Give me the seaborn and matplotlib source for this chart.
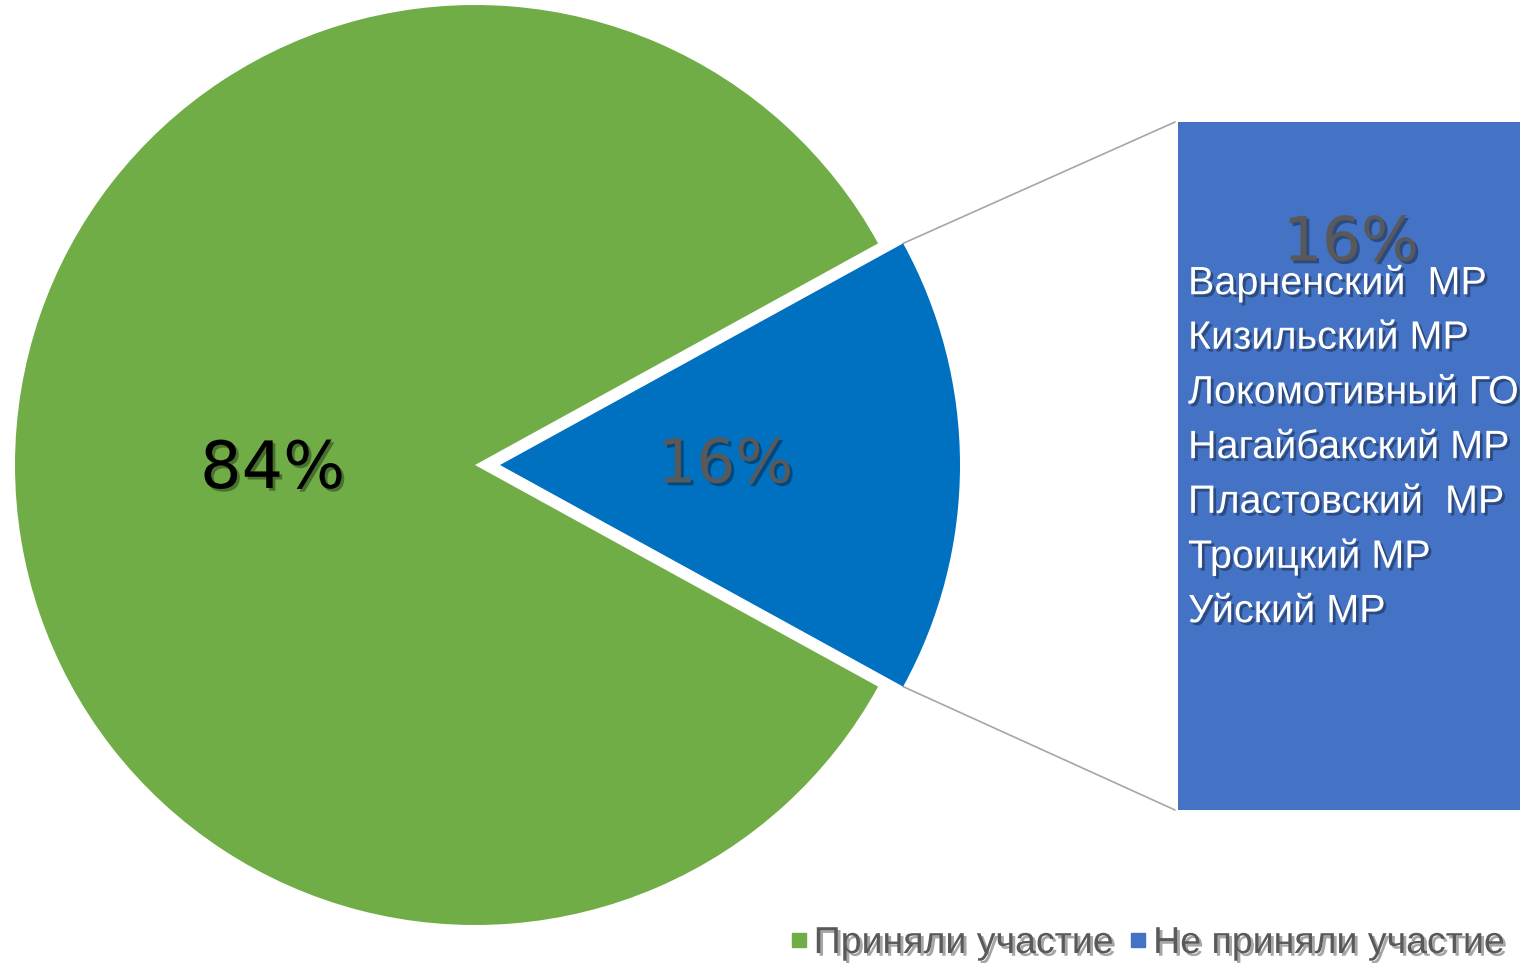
import numpy as np
import seaborn as sns
import matplotlib
matplotlib.use("Agg")
import matplotlib.pyplot as plt
import matplotlib.patheffects as pe
from matplotlib.lines import Line2D

## Data
categories = ["Приняли участие", "Не приняли участие"]
shares = [84, 16]
colors = ["#70AD47", "#0070C0"]
bar_color = "#4472C4"
regions = [
    "Варненский  МР",
    "Кизильский МР",
    "Локомотивный ГО",
    "Нагайбакский МР",
    "Пластовский  МР",
    "Троицкий МР",
    "Уйский МР",
]

## Layout (figure pixels, y up)
W, H = 1521, 963
center = (475, 498)
radius = 460
explode_px = 25
bar_left, bar_right = 1178, 1520
bar_bottom, bar_top = H - 810, H - 122

sns.set_theme(style="white")
plt.rcParams["font.family"] = ["DejaVu Sans"]

fig = plt.figure(figsize=(W / 100, H / 100), dpi=100)
ax = fig.add_axes([0, 0, 1, 1])

half = 360 * shares[1] / 100 / 2
shadow = [pe.withSimplePatchShadow(offset=(2, -2), shadow_rgbFace="black", alpha=0.35)]

# explode is given in data units (pixels here)
wedges, _, autotexts = ax.pie(
    shares, colors=colors, startangle=half, counterclock=True,
    center=center, radius=radius, explode=[0, explode_px],
    autopct="%d%%", pctdistance=0.44, frame=True,
    wedgeprops={"linewidth": 0},
)
ax.set_xlim(0, W)
ax.set_ylim(0, H)
ax.axis("off")
ax.set_aspect("equal")

autotexts[0].set(fontsize=47, color="black", path_effects=shadow)
autotexts[1].set(fontsize=44, color="#595959", path_effects=shadow)
x0, y0 = autotexts[0].get_position()
autotexts[0].set_position((x0, y0 - 5))
x1, y1 = autotexts[1].get_position()
autotexts[1].set_position((x1 + 23, y1 - 1))

# bar of the 16% segment
ax.bar(x=(bar_left + bar_right) / 2, height=bar_top - bar_bottom, width=bar_right - bar_left,
       bottom=bar_bottom, color=bar_color, linewidth=0, zorder=1)

# connector lines from the blue wedge corners to the bar corners
bcx, bcy = center[0] + explode_px, center[1]
for sign, by in [(1, bar_top), (-1, bar_bottom)]:
    a = np.deg2rad(sign * half)
    xa, ya = bcx + radius * np.cos(a), bcy + radius * np.sin(a)
    ax.plot([xa, bar_left - 3], [ya, by], color="#A6A6A6", lw=1.2, zorder=0)

# labels in the bar
ax.text((bar_left + bar_right) / 2 + 2, H - 244, f"{shares[1]}%", fontsize=44,
        color="#595959", ha="center", va="center", path_effects=shadow, zorder=3)
for i, name in enumerate(regions):
    ax.text(bar_left + 10, H - 283 - i * 54.7, name, fontsize=28.5, color="white",
            family=["Liberation Sans", "DejaVu Sans"], ha="left", va="center",
            path_effects=shadow, zorder=4, clip_on=False)

# legend
handles = [Line2D([], [], marker="s", ls="none", markersize=9.5, color=c) for c in [colors[0], bar_color]]
leg = fig.legend(handles, categories, loc="center right", bbox_to_anchor=(1505 / W, 20 / H),
                 ncol=2, frameon=False, borderpad=0, borderaxespad=0,
                 handletextpad=0.15, columnspacing=0.4, handlelength=0.5,
                 prop={"family": ["Liberation Sans"], "size": 27})
for t in leg.get_texts():
    t.set_color("#595959")
    t.set_path_effects(shadow)

fig.savefig("out.png", dpi=100)
